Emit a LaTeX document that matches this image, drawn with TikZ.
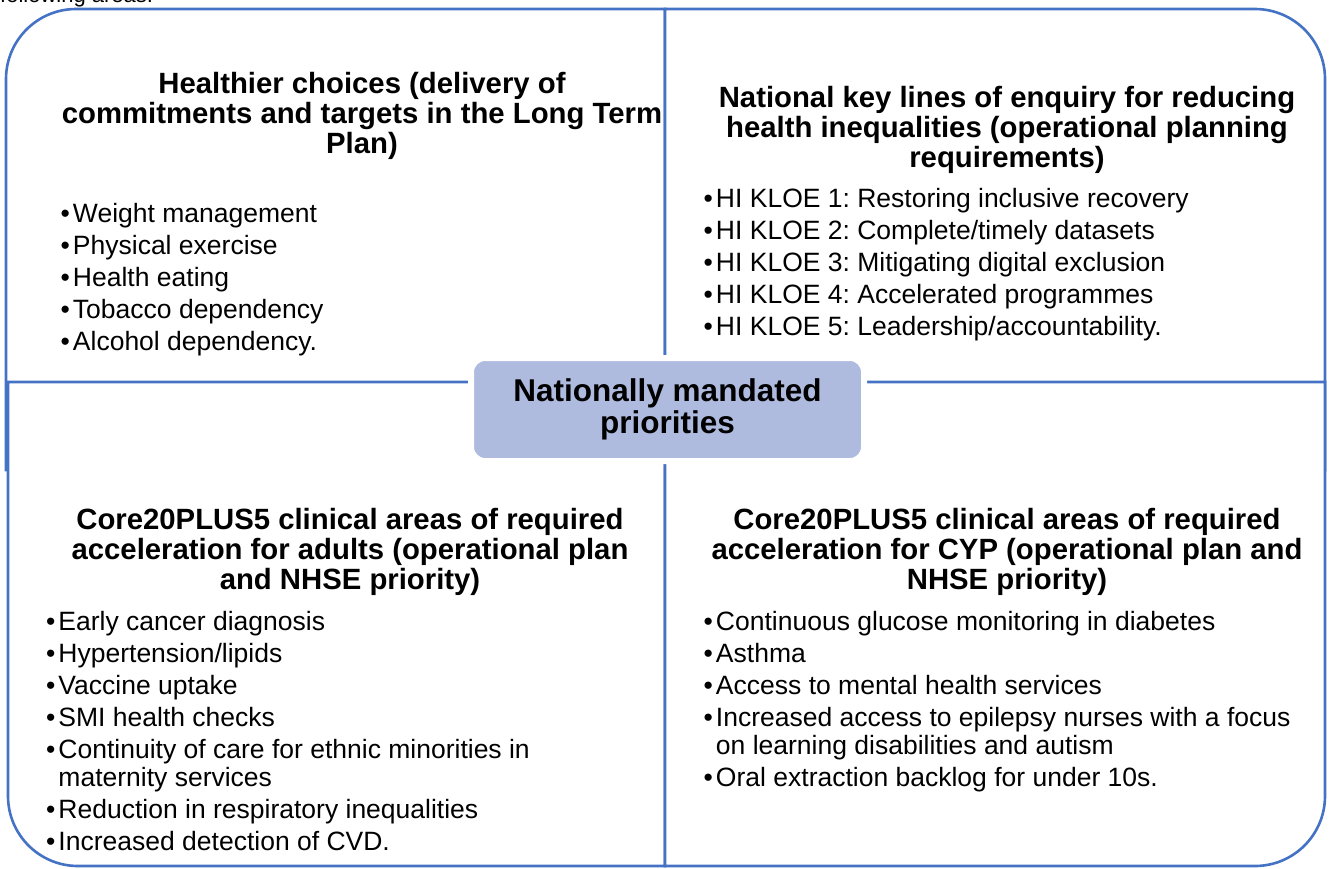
\documentclass[tikz,border=0pt]{standalone}
\usepackage{fontspec}
\setmainfont{Liberation Sans}
\frenchspacing
\definecolor{frameblue}{RGB}{68,114,196}
\definecolor{hubfill}{RGB}{174,187,223}
\tikzset{
  quad/.style={draw=frameblue, line width=2.6pt, fill=white},
  heading/.style={font=\fontsize{29.3}{30}\selectfont\bfseries, align=center, inner sep=0pt, anchor=base},
  bullets/.style={font=\fontsize{26.5}{28}\selectfont, align=left, inner sep=0pt, anchor=base west},
  hub/.style={rounded corners=14pt, fill=hubfill, draw=white, line width=6pt, minimum width=393pt, minimum height=103pt, align=center, font=\fontsize{31.5}{32}\selectfont\bfseries}
}
\newcommand{\itm}{\textbullet\hspace{3pt}}
\newcommand{\wrapind}{\hphantom{\textbullet\hspace{3pt}}}

\begin{document}
\begin{tikzpicture}[x=1pt,y=1pt]
\useasboundingbox (0,0) rectangle (1330,-868);
\node[anchor=base west, inner sep=0pt, font=\fontsize{22}{24}\selectfont] (lead) at (0,-2.5) {following areas:};
% upper quadrants
\draw[quad] (665,-9) -- (76,-9) arc[start angle=90,end angle=180,radius=70] -- (6,-470) -- (665,-470) -- cycle;
\draw[quad] (665,-9) -- (1255,-9) arc[start angle=90,end angle=0,radius=70] -- (1325,-470) -- (665,-470) -- cycle;
% lower quadrants
\draw[quad] (665,-382) -- (8,-382) -- (8,-796) arc[start angle=180,end angle=270,radius=70] -- (665,-866) -- cycle;
\draw[quad] (665,-382) -- (1325,-382) -- (1325,-796) arc[start angle=0,end angle=-90,radius=70] -- (665,-866) -- cycle;
\node[hub] (hub) at (667.5,-409.5) {Nationally mandated\\priorities};
% headings (anchored at last baseline)
\node[heading] (headTL) at (362,-153) {Healthier choices (delivery of\\commitments and targets in the Long Term\\Plan)};
\node[heading] (headTR) at (1007,-167) {National key lines of enquiry for reducing\\health inequalities (operational planning\\requirements)};
\node[heading] (headBL) at (350,-589) {Core20PLUS5 clinical areas of required\\acceleration for adults (operational plan\\and NHSE priority)};
\node[heading] (headBR) at (1007,-589) {Core20PLUS5 clinical areas of required\\acceleration for CYP (operational plan and\\NHSE priority)};
% lists
\node[bullets] (listTL) at (60.5,-350) {\itm Weight management\\[4pt]\itm Physical exercise\\[4pt]\itm Health eating\\[4pt]\itm Tobacco dependency\\[4pt]\itm Alcohol dependency.};
\node[bullets] (listTR) at (703.5,-335) {\itm HI KLOE 1: Restoring inclusive recovery\\[4pt]\itm HI KLOE 2: Complete/timely datasets\\[4pt]\itm HI KLOE 3: Mitigating digital exclusion\\[4pt]\itm HI KLOE 4: Accelerated programmes\\[4pt]\itm HI KLOE 5: Leadership/accountability.};
\node[bullets] (listBL) at (46,-850) {\itm Early cancer diagnosis\\[4pt]\itm Hypertension/lipids\\[4pt]\itm Vaccine uptake\\[4pt]\itm SMI health checks\\[4pt]\itm Continuity of care for ethnic minorities in\\\wrapind maternity services\\[4pt]\itm Reduction in respiratory inequalities\\[4pt]\itm Increased detection of CVD.};
\node[bullets] (listBR) at (703.5,-786) {\itm Continuous glucose monitoring in diabetes\\[4pt]\itm Asthma\\[4pt]\itm Access to mental health services\\[4pt]\itm Increased access to epilepsy nurses with a focus\\\wrapind on learning disabilities and autism\\[4pt]\itm Oral extraction backlog for under 10s.};
\end{tikzpicture}
\end{document}
